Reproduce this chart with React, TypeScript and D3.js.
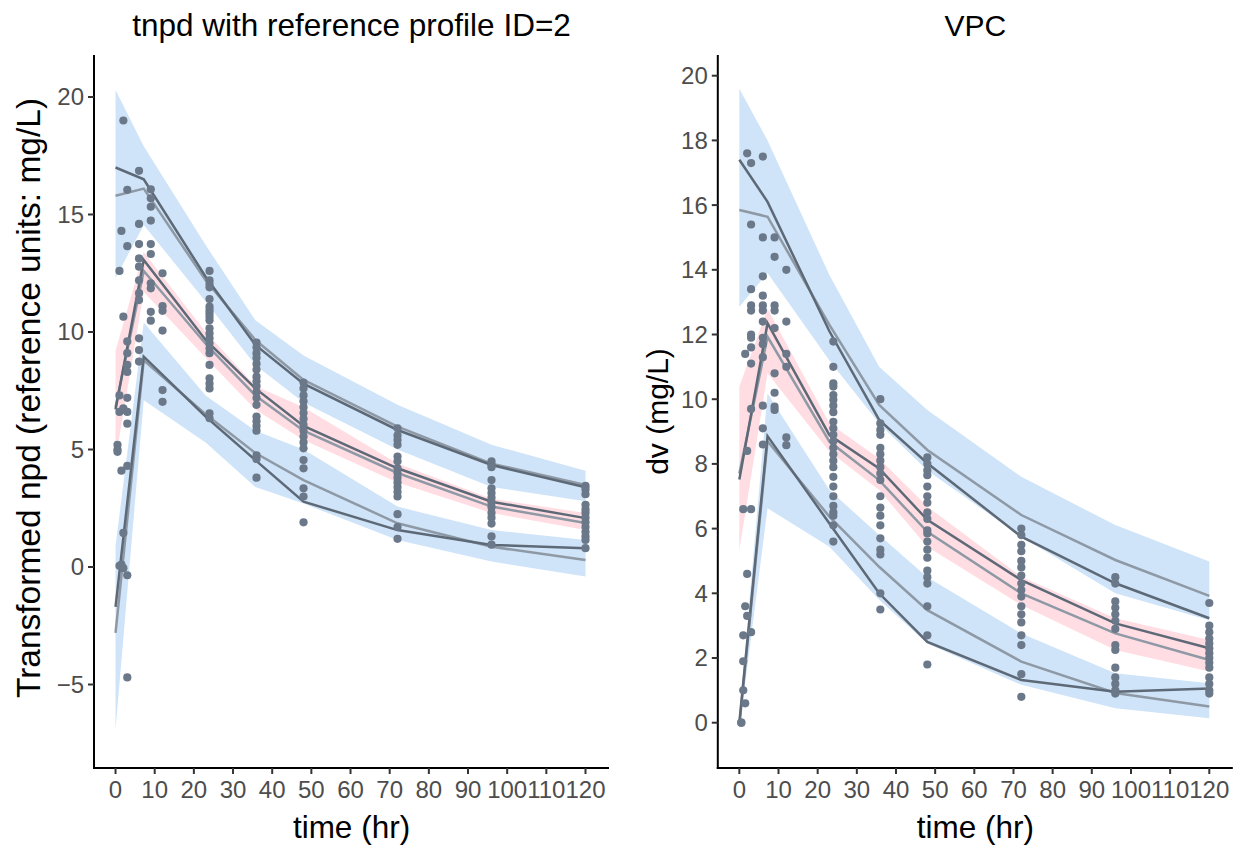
import React from "react";
import * as d3 from "d3";

// ---------- data ----------
const binTimes = [0, 7.2, 23, 35.7, 48, 72, 96, 120];
const obsTimes = [0.5, 1, 1.5, 2, 3, 6, 9, 12, 24, 36, 48, 72, 96, 120];
const xTicks = [0, 10, 20, 30, 40, 50, 60, 70, 80, 90, 100, 110, 120];

// Left panel: tnpd
const leftYTicks = [-5, 0, 5, 10, 15, 20];
const leftUpperHi = [20.3, 17.9, 13.7, 10.5, 9.0, 6.9, 5.2, 4.1];
const leftUpperLo = [12.3, 14.55, 11.3, 8.6, 7.0, 5.0, 3.4, 2.8];
const leftMidHi = [9.2, 13.4, 10.0, 7.7, 6.8, 4.4, 2.9, 2.3];
const leftMidLo = [4.6, 11.7, 8.9, 6.7, 5.4, 3.6, 2.3, 1.57];
const leftLowHi = [0.9, 10.4, 7.3, 5.8, 5.0, 2.57, 1.57, 1.15];
const leftLowLo = [-6.9, 7.1, 5.3, 3.4, 2.7, 1.15, 0.23, -0.4];
const leftObsUpper = [17.0, 16.5, 12.35, 9.45, 7.8, 5.83, 4.34, 3.39];
const leftSimUpper = [15.8, 16.1, 12.2, 9.66, 7.96, 5.97, 4.4, 3.49];
const leftObsMid = [6.7, 13.06, 9.66, 7.6, 6.0, 4.2, 2.78, 2.08];
const leftSimMid = [6.8, 12.6, 9.5, 7.3, 5.8, 4.0, 2.57, 1.87];
const leftObsLow = [-1.7, 8.95, 6.4, 4.55, 2.78, 1.57, 0.94, 0.8];
const leftSimLow = [-2.8, 8.8, 6.5, 4.85, 3.7, 1.86, 0.86, 0.3];
const leftObs = [
  [5.2, 5.0, 4.9],
  [12.6, 7.3, 6.6, 0.05],
  [14.3, 4.1, 0.1],
  [19.0, 10.65, 6.75, 6.7, 1.45, -0.05],
  [16.05, 13.65, 9.6, 9.1, 8.6, 8.3, 7.2, 6.6, 6.1, 4.3, -0.35, -4.7],
  [16.86, 14.6, 13.74, 13.13, 12.78, 12.2, 11.65, 11.36, 9.73, 9.23, 8.74],
  [16.07, 15.69, 15.33, 14.74, 13.74, 13.32, 12.07, 11.86, 10.86, 10.48],
  [12.5, 11.1, 10.9, 10.06, 7.53, 7.03],
  [12.6, 12.2, 12.04, 11.9, 11.4, 11.08, 10.94, 10.8, 10.65, 10.5, 10.16, 9.94, 9.73, 9.52, 9.3, 9.1, 8.6, 8.03, 7.8, 7.6, 6.54, 6.33],
  [9.55, 9.35, 9.1, 8.9, 8.65, 8.4, 8.1, 7.9, 7.7, 7.45, 7.2, 6.9, 6.4, 6.2, 6.0, 5.8, 4.75, 4.6, 3.8],
  [7.85, 7.6, 7.3, 7.05, 6.8, 6.55, 6.3, 6.05, 5.8, 5.55, 5.3, 5.05, 4.55, 4.2, 3.35, 3.0, 1.9],
  [5.9, 5.6, 5.4, 5.2, 4.7, 4.5, 4.2, 4.0, 3.8, 3.6, 3.4, 3.2, 3.0, 2.25, 1.7, 1.2],
  [4.5, 4.35, 4.25, 3.7, 3.35, 3.15, 2.95, 2.75, 2.55, 2.3, 2.1, 1.85, 1.3, 0.95],
  [3.45, 3.3, 3.1, 2.65, 2.45, 2.3, 2.1, 1.9, 1.7, 1.5, 1.3, 1.15, 0.8],
];

// Right panel: VPC
const rightYTicks = [0, 2, 4, 6, 8, 10, 12, 14, 16, 18, 20];
const rightUpperHi = [19.6, 18.0, 13.84, 11.0, 9.67, 7.6, 6.11, 4.98];
const rightUpperLo = [12.86, 13.9, 11.2, 9.25, 7.8, 5.75, 4.0, 3.17];
const rightMidHi = [10.39, 12.8, 9.26, 8.17, 6.68, 4.51, 3.23, 2.56];
const rightMidLo = [5.34, 10.8, 8.38, 7.19, 5.44, 3.64, 2.25, 1.58];
const rightLowHi = [0.2, 10.18, 7.19, 5.8, 4.5, 2.76, 1.53, 1.22];
const rightLowLo = [-0.2, 6.63, 5.44, 3.8, 2.45, 1.17, 0.45, 0.14];
const rightObsUpper = [17.4, 16.1, 12.1, 9.36, 8.02, 5.75, 4.31, 3.23];
const rightSimUpper = [15.85, 15.64, 12.3, 9.82, 8.43, 6.42, 5.03, 3.92];
const rightObsMid = [7.52, 12.35, 8.89, 7.86, 6.27, 4.41, 3.07, 2.3];
const rightSimMid = [7.7, 11.93, 8.69, 7.5, 5.9, 4.0, 2.76, 1.94];
const rightObsLow = [0.0, 8.86, 6.16, 4.0, 2.5, 1.32, 0.96, 1.06];
const rightSimLow = [-0.1, 8.7, 6.37, 4.82, 3.48, 1.89, 0.92, 0.5];
const rightObs = [
  [0, 0],
  [6.6, 2.7, 1.9, 1.0],
  [11.4, 3.6, 0.6],
  [17.6, 8.4, 4.6, 3.3],
  [17.3, 15.4, 13.4, 12.9, 12.74, 12.0, 11.9, 11.6, 11.1, 9.7, 6.6, 2.8],
  [17.5, 15.0, 13.8, 13.2, 12.9, 12.74, 12.4, 11.9, 11.7, 11.3, 9.8, 9.1, 8.6],
  [15.0, 14.4, 12.9, 12.74, 12.2, 10.8, 10.2, 9.77, 9.67],
  [14.0, 12.4, 11.4, 11.0, 8.82, 8.58],
  [11.78, 11.0, 10.49, 10.39, 10.13, 9.98, 9.8, 9.6, 9.3, 9.1, 8.9, 8.7, 8.5, 8.3, 8.1, 7.9, 7.6, 7.3, 7.0, 6.7, 6.5, 6.4, 6.1, 5.6],
  [10.0, 9.25, 9.05, 8.9, 8.5, 8.3, 8.1, 7.9, 7.7, 7.5, 7.0, 6.65, 6.4, 6.1, 5.7, 5.35, 5.2, 4.0, 3.5],
  [8.2, 8.0, 7.8, 7.65, 7.3, 7.0, 6.8, 6.5, 6.3, 5.95, 5.85, 5.6, 5.35, 5.1, 4.7, 4.5, 4.3, 3.6, 2.7, 1.8],
  [6.0, 5.8, 5.5, 5.3, 5.0, 4.8, 4.55, 4.3, 4.1, 3.9, 3.6, 3.35, 3.1, 2.7, 2.4, 1.5, 0.8],
  [4.5, 4.3, 3.75, 3.55, 3.35, 3.15, 2.9, 2.4, 2.25, 1.7, 1.4, 1.2, 1.0, 0.9],
  [3.7, 3.0, 2.8, 2.6, 2.45, 2.3, 2.15, 2.0, 1.85, 1.7, 1.4, 1.2, 1.0, 0.9],
];

// ---------- style ----------
const FONT = "'Liberation Sans', Arial, Helvetica, sans-serif";
const BLUE = "#cfe4f8";
const PINK = "#ffdde3";
const POINT = "#6a7889";
const DARK = "#5e6977";
const LIGHT = "#8e99a5";
const TOP = 55;
const BOTTOM = 768;

type PanelProps = {
  left: number;
  right: number;
  yDomain: [number, number];
  yTicks: number[];
  title: string;
  titleSize: number;
  xTitleSize: number;
  yLabel: string;
  yLabelX: number;
  yLabelY: number;
  yLabelSize: number;
  bands: [number[], number[], string][];
  sim: number[][];
  obsLines: number[][];
  obs: number[][];
};

function Panel(p: PanelProps) {
  const x = d3.scaleLinear().domain([-5.5, 126]).range([p.left, p.right]);
  const y = d3.scaleLinear().domain(p.yDomain).range([BOTTOM, TOP]);
  const fmt = d3.format("d");
  const line = d3
    .line<number>()
    .x((_, i) => x(binTimes[i]))
    .y((d) => y(d));
  const cx = (p.left + p.right) / 2;
  return (
    <g>
      {p.bands.map(([hi, lo, col], k) => {
        const area = d3
          .area<number>()
          .x((_, i) => x(binTimes[i]))
          .y0((_, i) => y(lo[i]))
          .y1((d) => y(d));
        return <path key={"b" + k} d={area(hi) || ""} fill={col} stroke="none" />;
      })}
      {p.sim.map((s, k) => (
        <path key={"s" + k} d={line(s) || ""} fill="none" stroke={LIGHT} strokeWidth={2.5} />
      ))}
      {p.obsLines.map((s, k) => (
        <path key={"o" + k} d={line(s) || ""} fill="none" stroke={DARK} strokeWidth={2.5} />
      ))}
      {p.obs.map((vals, ti) =>
        vals.map((v, j) => (
          <circle key={"p" + ti + "_" + j} cx={x(obsTimes[ti])} cy={y(v)} r={4.1} fill={POINT} />
        ))
      )}
      {/* axes */}
      <line x1={p.left} x2={p.left} y1={TOP} y2={BOTTOM + 1} stroke="#000" strokeWidth={2} />
      <line x1={p.left - 1} x2={p.right} y1={BOTTOM} y2={BOTTOM} stroke="#000" strokeWidth={2} />
      {p.yTicks.map((t) => (
        <g key={"yt" + t}>
          <line x1={p.left - 6} x2={p.left} y1={y(t)} y2={y(t)} stroke="#333" strokeWidth={2} />
          <text
            x={p.left - 10}
            y={y(t)}
            dy="0.35em"
            textAnchor="end"
            fontSize={24}
            fill="#4d4d4d"
            fontFamily={FONT}
          >
            {fmt(t)}
          </text>
        </g>
      ))}
      {xTicks.map((t) => (
        <g key={"xt" + t}>
          <line x1={x(t)} x2={x(t)} y1={BOTTOM} y2={BOTTOM + 6} stroke="#333" strokeWidth={2} />
          <text x={x(t)} y={798} textAnchor="middle" fontSize={24} fill="#4d4d4d" fontFamily={FONT}>
            {fmt(t)}
          </text>
        </g>
      ))}
      <text x={cx} y={838} textAnchor="middle" fontSize={p.xTitleSize} fill="#000" fontFamily={FONT}>
        time (hr)
      </text>
      <text x={cx} y={36} textAnchor="middle" fontSize={p.titleSize} fill="#000" fontFamily={FONT}>
        {p.title}
      </text>
      <text
        transform={`translate(${p.yLabelX},${p.yLabelY}) rotate(-90)`}
        textAnchor="middle"
        fontSize={p.yLabelSize}
        fill="#000"
        fontFamily={FONT}
      >
        {p.yLabel}
      </text>
    </g>
  );
}

export default function App() {
  return (
    <svg
      width={1242}
      height={845}
      style={{ position: "absolute", left: 0, top: 0, background: "#fff" }}
    >
      <rect x={0} y={0} width={1242} height={845} fill="#fff" />
      <Panel
        left={94}
        right={609}
        yDomain={[-8.553, 21.787]}
        yTicks={leftYTicks}
        title="tnpd with reference profile ID=2"
        titleSize={31.5}
        xTitleSize={31.5}
        yLabel="Transformed npd (reference units: mg/L)"
        yLabelX={40}
        yLabelY={398}
        yLabelSize={33.5}
        bands={[
          [leftUpperHi, leftUpperLo, BLUE],
          [leftMidHi, leftMidLo, PINK],
          [leftLowHi, leftLowLo, BLUE],
        ]}
        sim={[leftSimUpper, leftSimMid, leftSimLow]}
        obsLines={[leftObsUpper, leftObsMid, leftObsLow]}
        obs={leftObs}
      />
      <Panel
        left={717.8}
        right={1232.8}
        yDomain={[-1.4, 20.64]}
        yTicks={rightYTicks}
        title="VPC"
        titleSize={30}
        xTitleSize={31.5}
        yLabel="dv (mg/L)"
        yLabelX={668}
        yLabelY={411.5}
        yLabelSize={30}
        bands={[
          [rightUpperHi, rightUpperLo, BLUE],
          [rightMidHi, rightMidLo, PINK],
          [rightLowHi, rightLowLo, BLUE],
        ]}
        sim={[rightSimUpper, rightSimMid, rightSimLow]}
        obsLines={[rightObsUpper, rightObsMid, rightObsLow]}
        obs={rightObs}
      />
    </svg>
  );
}
